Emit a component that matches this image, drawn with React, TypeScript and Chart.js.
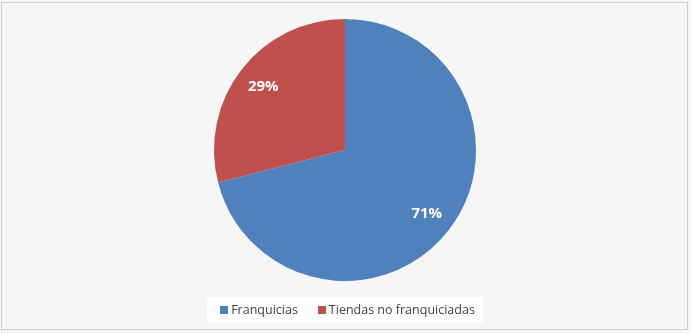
import React, { useEffect, useRef } from "react";
import { Chart, registerables } from "chart.js";

Chart.register(...registerables);

const categories = ["Franquicias", "Tiendas no franquiciadas"];
const values = [71, 29];
const colors = ["#4F81BD", "#C0504D"];

const backgroundPlugin = {
  id: "bgFrame",
  beforeDraw(chart: any) {
    const ctx = chart.ctx;
    ctx.save();
    ctx.fillStyle = "#f6f6f6";
    ctx.fillRect(0, 0, chart.width, chart.height);
    ctx.strokeStyle = "#d0d0d0";
    ctx.lineWidth = 1;
    ctx.strokeRect(1.5, 2.5, 686, 327);
    ctx.fillStyle = "#ffffff";
    ctx.fillRect(207, 297, 276, 26);
    ctx.restore();
  },
};

const labelPlugin = {
  id: "sliceLabels",
  afterDatasetsDraw(chart: any) {
    const ctx = chart.ctx;
    const meta = chart.getDatasetMeta(0);
    const total = values.reduce((a, b) => a + b, 0);
    ctx.save();
    ctx.fillStyle = "#ffffff";
    ctx.font = "bold 15px 'Open Sans'";
    ctx.textAlign = "center";
    ctx.textBaseline = "middle";
    meta.data.forEach((arc: any, i: number) => {
      const { x, y, startAngle, endAngle, outerRadius } = arc.getProps(
        ["x", "y", "startAngle", "endAngle", "outerRadius"],
        true
      );
      const mid = (startAngle + endAngle) / 2;
      const r = outerRadius * 0.79;
      const pct = Math.round((values[i] / total) * 100) + "%";
      ctx.fillText(pct, x + Math.cos(mid) * r, y + Math.sin(mid) * r);
    });
    ctx.restore();
  },
};

const legendPlugin = {
  id: "customLegend",
  afterDraw(chart: any) {
    const ctx = chart.ctx;
    ctx.save();
    ctx.font = "12.5px 'Open Sans'";
    ctx.textBaseline = "middle";
    ctx.textAlign = "left";
    const boxSize = 8;
    const gap = 3;
    const itemGap = 20;
    const widths = categories.map((c) => boxSize + gap + ctx.measureText(c).width);
    const totalW = widths.reduce((a, b) => a + b, 0) + itemGap * (categories.length - 1);
    let x = 347.5 - totalW / 2;
    const cy = 310;
    categories.forEach((c, i) => {
      ctx.fillStyle = colors[i];
      ctx.fillRect(Math.round(x), cy - 4, boxSize, boxSize);
      ctx.fillStyle = "#404040";
      ctx.fillText(c, x + boxSize + gap, cy);
      x += widths[i] + itemGap;
    });
    ctx.restore();
  },
};

export default function App() {
  const ref = useRef<HTMLCanvasElement | null>(null);
  useEffect(() => {
    document.body.style.margin = "0";
    if (!ref.current) return;
    const chart = new Chart(ref.current, {
      type: "pie",
      data: {
        labels: categories,
        datasets: [
          {
            data: values,
            backgroundColor: colors,
            borderWidth: 0,
          },
        ],
      },
      options: {
        responsive: false,
        animation: false,
        layout: { padding: { top: 19, bottom: 52, left: 214, right: 215 } },
        plugins: {
          legend: { display: false },
          tooltip: { enabled: false },
          title: { display: false },
        },
      },
      plugins: [backgroundPlugin, labelPlugin, legendPlugin],
    });
    return () => chart.destroy();
  }, []);
  return (
    <div style={{ width: 691, height: 333 }}>
      <canvas ref={ref} width={691} height={333} style={{ display: "block" }} />
    </div>
  );
}
